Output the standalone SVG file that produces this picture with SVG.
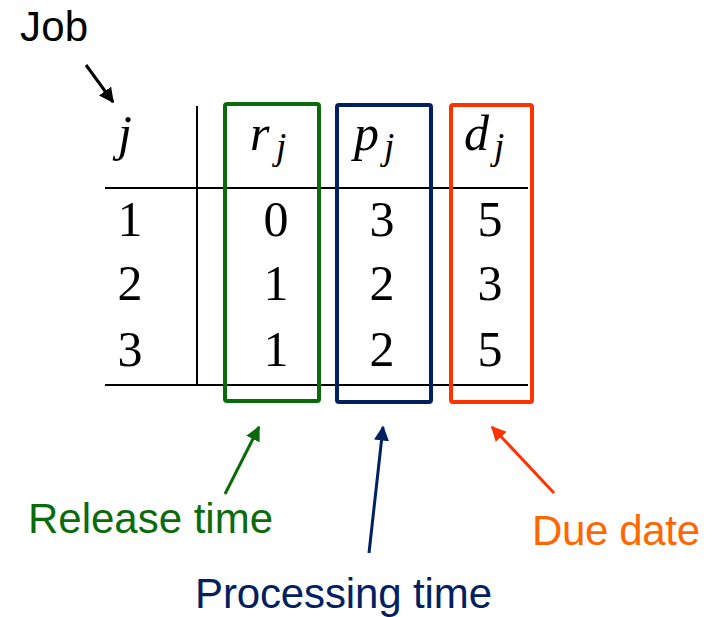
<svg xmlns="http://www.w3.org/2000/svg" width="715" height="617" viewBox="0 0 715 617">
  <style>
    .label { font-family: "Liberation Sans", Arial, sans-serif; font-size: 42px; }
    .math { font-family: "Liberation Serif", "Times New Roman", serif; font-style: italic; font-size: 50px; fill: #000; }
    .sub { font-family: "Liberation Serif", "Times New Roman", serif; font-style: italic; font-size: 37px; fill: #000; }
    .num { font-family: "Liberation Serif", "Times New Roman", serif; font-size: 50px; fill: #000; text-anchor: middle; }
    .rule { stroke: #000; stroke-width: 2; fill: none; }
    .box { fill: none; stroke-width: 4; }
    .conn { stroke-width: 3; fill: none; }
  </style>
  <defs>
    <marker id="ah-black" viewBox="0 0 10 10" refX="9" refY="5" markerWidth="5" markerHeight="5" orient="auto" markerUnits="strokeWidth">
      <path d="M0,0 L10,5 L0,10 z" fill="#000"/>
    </marker>
    <marker id="ah-green" viewBox="0 0 10 10" refX="9" refY="5" markerWidth="5" markerHeight="5" orient="auto" markerUnits="strokeWidth">
      <path d="M0,0 L10,5 L0,10 z" fill="#0a6b0a"/>
    </marker>
    <marker id="ah-blue" viewBox="0 0 10 10" refX="9" refY="5" markerWidth="5" markerHeight="5" orient="auto" markerUnits="strokeWidth">
      <path d="M0,0 L10,5 L0,10 z" fill="#002060"/>
    </marker>
    <marker id="ah-red" viewBox="0 0 10 10" refX="9" refY="5" markerWidth="5" markerHeight="5" orient="auto" markerUnits="strokeWidth">
      <path d="M0,0 L10,5 L0,10 z" fill="#ff3300"/>
    </marker>
  </defs>

  <rect width="715" height="617" fill="#fff"/>

  <!-- table rules -->
  <g id="table">
    <line class="rule" x1="105" y1="188" x2="528" y2="188"/>
    <line class="rule" x1="105" y1="385" x2="528" y2="385"/>
    <line class="rule" x1="197" y1="106" x2="197" y2="385"/>

    <!-- header row -->
    <text class="math" x="125" y="150" text-anchor="middle">j</text>
    <text class="math" x="250" y="150">r</text>
    <text class="sub" x="276" y="159">j</text>
    <text class="math" x="354" y="150">p</text>
    <text class="sub" x="384" y="159">j</text>
    <text class="math" x="464" y="150">d</text>
    <text class="sub" x="494" y="159">j</text>

    <!-- job index column -->
    <text class="num" x="130" y="236">1</text>
    <text class="num" x="130" y="300">2</text>
    <text class="num" x="130" y="366">3</text>
    <!-- release times -->
    <text class="num" x="276" y="236">0</text>
    <text class="num" x="276" y="300">1</text>
    <text class="num" x="276" y="366">1</text>
    <!-- processing times -->
    <text class="num" x="382" y="236">3</text>
    <text class="num" x="382" y="300">2</text>
    <text class="num" x="382" y="366">2</text>
    <!-- due dates -->
    <text class="num" x="490" y="236">5</text>
    <text class="num" x="490" y="300">3</text>
    <text class="num" x="490" y="366">5</text>
  </g>

  <!-- column highlights -->
  <g id="release-box"><rect class="box" x="225" y="104" width="94" height="297" rx="2" stroke="#0a6b0a"/></g>
  <g id="processing-box"><rect class="box" x="337" y="105" width="94" height="297" rx="2" stroke="#002060"/></g>
  <g id="due-box"><rect class="box" x="451" y="105" width="81" height="297" rx="2" stroke="#ff3300"/></g>

  <!-- captions -->
  <g id="job-label"><text class="label" x="20" y="41" fill="#000" textLength="68">Job</text></g>
  <g id="release-label"><text class="label" x="28" y="533" fill="#0a6b0a" textLength="245">Release time</text></g>
  <g id="processing-label"><text class="label" x="195" y="608" fill="#002060" textLength="297">Processing time</text></g>
  <g id="due-label"><text class="label" x="532" y="545" fill="#ff6600" textLength="168">Due date</text></g>

  <!-- connectors -->
  <g id="connectors">
    <line class="conn" x1="86" y1="65" x2="113" y2="102" stroke="#000" stroke-width="2.5" marker-end="url(#ah-black)"/>
    <line class="conn" x1="225" y1="494" x2="259" y2="427" stroke="#0a6b0a" marker-end="url(#ah-green)"/>
    <line class="conn" x1="369" y1="553" x2="383" y2="427" stroke="#002060" marker-end="url(#ah-blue)"/>
    <line class="conn" x1="554" y1="493" x2="492" y2="427" stroke="#ff3300" marker-end="url(#ah-red)"/>
  </g>
</svg>
